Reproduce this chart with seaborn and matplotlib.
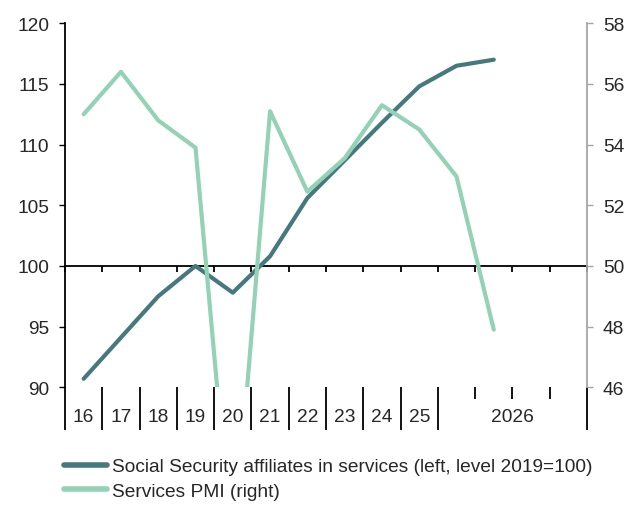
import matplotlib
matplotlib.use("Agg")
import matplotlib.pyplot as plt
import matplotlib.transforms as mtransforms
import numpy as np
import pandas as pd
import seaborn as sns

# Period labels: annual years, then 2026 shown by quarter
years = ["16", "17", "18", "19", "20", "21", "22", "23", "24", "25"]
quarters_2026 = ["Q1", "Q2", "Q3", "Q4"]
group_2026_label = "2026"

# Social Security affiliates in services (level 2019 = 100), left axis
affiliates = [90.7, 94.1, 97.5, 100.0, 97.8, 100.8, 105.6, 108.7, 111.8, 114.8, 116.5, 117.0]
# Services PMI, right axis
pmi = [55.0, 56.4, 54.8, 53.9, 40.3, 55.1, 52.45, 53.55, 55.3, 54.5, 52.95, 47.9]

left_ticks = [90, 95, 100, 105, 110, 115, 120]
right_ticks = [46, 48, 50, 52, 54, 56, 58]

label_aff = "Social Security affiliates in services (left, level 2019=100)"
label_pmi = "Services PMI (right)"

DARK = "#46797D"
LIGHT = "#93D2B4"
FS = 13.8

sns.set_theme(style="white")
plt.rcParams["font.family"] = ["Liberation Sans", "DejaVu Sans"]

n_slots = len(years) + len(quarters_2026)
df = pd.DataFrame({
    "pos": np.arange(len(affiliates)),
    "affiliates": affiliates,
    "pmi": pmi,
})

fig = plt.figure(figsize=(6.38, 5.06), dpi=100)
ax = fig.add_axes([65 / 638, 1 - 388.3 / 506, (587 - 65) / 638, (388.3 - 24.3) / 506])
ax2 = ax.twinx()

sns.lineplot(data=df, x="pos", y="affiliates", ax=ax, color=DARK, lw=3,
             label=label_aff, legend=False, zorder=3)
sns.lineplot(data=df, x="pos", y="pmi", ax=ax2, color=LIGHT, lw=3,
             label=label_pmi, legend=False, zorder=3)
for ln in ax.lines + ax2.lines:
    ln.set_solid_capstyle("round")

ax.set_xlim(-0.5, n_slots - 0.5)
ax.set_ylim(left_ticks[0], left_ticks[-1])
ax2.set_ylim(right_ticks[0], right_ticks[-1])
ax.set_yticks(left_ticks)
ax2.set_yticks(right_ticks)
ax.set_xlabel("")
ax.set_ylabel("")
ax2.set_xlabel("")
ax2.set_ylabel("")

# Spines: black left axis, grey right axis, baseline at 100
for s in ["top", "right"]:
    ax.spines[s].set_visible(False)
for s in ["top", "left", "bottom"]:
    ax2.spines[s].set_visible(False)
ax.spines["left"].set_color("black")
ax.spines["left"].set_linewidth(1.3)
ax2.spines["right"].set_color("#A6A6A6")
ax2.spines["right"].set_linewidth(1.3)
ax.spines["bottom"].set_position(("data", 100))
ax.spines["bottom"].set_color("black")
ax.spines["bottom"].set_linewidth(1.3)
ax.spines["bottom"].set_zorder(1)

boundaries = np.arange(n_slots + 1) - 0.5
ax.set_xticks(boundaries)
ax.tick_params(axis="x", direction="out", length=4, width=1.3, color="black",
               labelbottom=False, bottom=True)
ax.tick_params(axis="y", direction="out", length=4.5, width=1.0, color="black",
               labelsize=FS, pad=7, left=True)
ax2.tick_params(axis="y", direction="out", length=4.5, width=1.0, color="#A6A6A6",
                labelsize=FS, pad=7, right=True)
ax2.tick_params(axis="x", bottom=False, labelbottom=False)

# Category separators and labels below the plot area
ax_h = 388.3 - 24.3
trans = mtransforms.blended_transform_factory(ax.transData, ax.transAxes)
long_len = 43 / ax_h
short_len = 12 / ax_h
n_years = len(years)
for i, b in enumerate(boundaries):
    seg = long_len if (i <= n_years or i == n_slots) else short_len
    ax.plot([b, b], [0, -seg], transform=trans, color="black", lw=1.3,
            clip_on=False, solid_capstyle="butt")
lab_y = -29 / ax_h
for i, y in enumerate(years):
    ax.text(i, lab_y, y, transform=trans, ha="center", va="center", fontsize=FS)
ax.text(n_years + (len(quarters_2026) - 1) / 2, lab_y, group_2026_label, transform=trans,
        ha="center", va="center", fontsize=FS)

handles = ax.lines[:1] + ax2.lines[:1]
leg = fig.legend(handles, [label_aff, label_pmi], loc="upper left",
                 bbox_to_anchor=(64 / 638, 1 - 459 / 506), frameon=False, fontsize=FS,
                 handlelength=2.25, handletextpad=0.25, labelspacing=0.38, borderpad=0,
                 borderaxespad=0)
for h in leg.legend_handles:
    h.set_linewidth(4)

fig.savefig("out.png", dpi=100)
